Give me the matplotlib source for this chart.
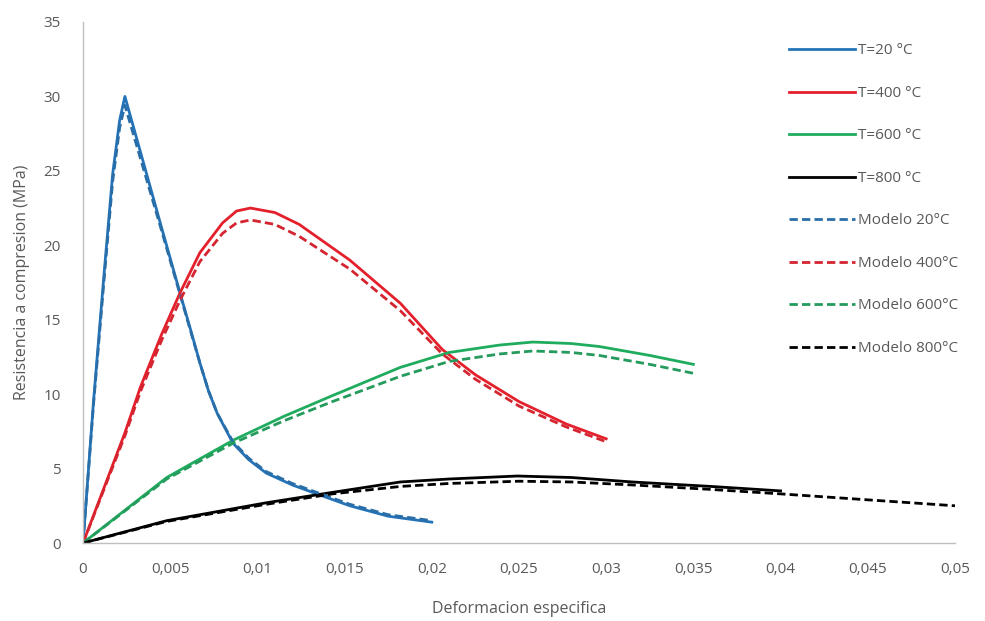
import matplotlib
matplotlib.use("Agg")
import matplotlib.pyplot as plt

plt.rcParams['font.family'] = ['Open Sans', 'DejaVu Sans']

# experimental curves
x_20 = [0, 0.0006, 0.0012, 0.0017, 0.0021, 0.0024, 0.0035, 0.0045, 0.00556, 0.0062, 0.0067, 0.0072, 0.0077, 0.0086, 0.0095, 0.0105, 0.012, 0.0134, 0.0153, 0.0175, 0.02]
y_20 = [0, 9.5, 18.0, 24.8, 28.4, 30.0, 25.4, 21.2, 16.8, 14.2, 12.1, 10.2, 8.7, 6.7, 5.6, 4.7, 3.9, 3.3, 2.5, 1.8, 1.4]
x_400 = [0, 0.0024, 0.0033, 0.0045, 0.00556, 0.0067, 0.008, 0.0088, 0.0096, 0.011, 0.0124, 0.0153, 0.0182, 0.0206, 0.0225, 0.025, 0.0277, 0.03]
y_400 = [0, 7.4, 10.5, 14.0, 16.8, 19.5, 21.5, 22.3, 22.5, 22.2, 21.4, 19.0, 16.1, 13.0, 11.3, 9.5, 8.0, 7.0]
x_600 = [0, 0.0048, 0.0086, 0.0115, 0.0143, 0.0182, 0.021, 0.0239, 0.0258, 0.028, 0.0296, 0.0325, 0.035]
y_600 = [0, 4.4, 6.9, 8.5, 9.9, 11.8, 12.8, 13.3, 13.5, 13.4, 13.2, 12.6, 12.0]
x_800 = [0, 0.0048, 0.0105, 0.0143, 0.0182, 0.021, 0.0249, 0.028, 0.0315, 0.036, 0.04]
y_800 = [0, 1.5, 2.7, 3.4, 4.1, 4.3, 4.5, 4.4, 4.1, 3.8, 3.5]

# model curves
xm_20 = x_20
ym_20 = [0, 9.3, 17.6, 24.3, 27.9, 29.4, 25.0, 21.0, 16.7, 14.1, 12.1, 10.2, 8.7, 6.8, 5.7, 4.8, 4.0, 3.4, 2.6, 1.9, 1.5]
xm_400 = x_400
ym_400 = [0, 7.2, 10.2, 13.6, 16.3, 18.9, 20.8, 21.5, 21.7, 21.4, 20.6, 18.4, 15.6, 12.7, 11.0, 9.2, 7.8, 6.8]
xm_600 = x_600
ym_600 = [0, 4.3, 6.7, 8.2, 9.5, 11.2, 12.2, 12.7, 12.9, 12.8, 12.6, 12.0, 11.4]
xm_800 = [0, 0.0048, 0.0105, 0.0143, 0.0182, 0.021, 0.025, 0.028, 0.0315, 0.036, 0.04, 0.045, 0.05]
ym_800 = [0, 1.45, 2.6, 3.3, 3.8, 4.0, 4.15, 4.1, 3.9, 3.6, 3.3, 2.9, 2.5]

x_ticks = [0, 0.005, 0.01, 0.015, 0.02, 0.025, 0.03, 0.035, 0.04, 0.045, 0.05]
x_tick_labels = ["0", "0,005", "0,01", "0,015", "0,02", "0,025", "0,03", "0,035", "0,04", "0,045", "0,05"]
y_ticks = [0, 5, 10, 15, 20, 25, 30, 35]

fig = plt.figure(figsize=(9.85, 6.21), dpi=100)
ax = fig.add_axes([0.0843, 0.1256, 0.8852, 0.839])

lw = 2.0
dash = (0, (3, 1.5))
ax.plot(x_20, y_20, color='#2473b8', lw=lw, label='T=20 °C')
ax.plot(x_400, y_400, color='#e3202b', lw=lw, label='T=400 °C')
ax.plot(x_600, y_600, color='#1fac5e', lw=lw, label='T=600 °C')
ax.plot(x_800, y_800, color='black', lw=lw, label='T=800 °C')
ax.plot(xm_20, ym_20, color='#2a6ea8', lw=lw, ls=dash, label='Modelo 20°C')
ax.plot(xm_400, ym_400, color='#d42530', lw=lw, ls=dash, label='Modelo 400°C')
ax.plot(xm_600, ym_600, color='#249a5c', lw=lw, ls=dash, label='Modelo 600°C')
ax.plot(xm_800, ym_800, color='black', lw=lw, ls=dash, label='Modelo 800°C')

ax.set_xlim(0, 0.05)
ax.set_ylim(0, 35)
ax.set_xticks(x_ticks)
ax.set_xticklabels(x_tick_labels)
ax.set_yticks(y_ticks)
ax.tick_params(length=0, labelsize=11, labelcolor='#595959')
ax.tick_params(axis='x', pad=14)
ax.tick_params(axis='y', pad=16)
for s in ['top', 'right']:
    ax.spines[s].set_visible(False)
for s in ['left', 'bottom']:
    ax.spines[s].set_color('#bfbfbf')
    ax.spines[s].set_linewidth(1)

ax.set_xlabel('Deformacion especifica', fontsize=11.5, color='#595959', labelpad=17)
ax.set_ylabel('Resistencia a compresion (MPa)', fontsize=11.5, color='#595959', labelpad=10)

leg = ax.legend(loc='upper left', bbox_to_anchor=(0.795, 0.94), bbox_transform=fig.transFigure,
                frameon=False, fontsize=11, handlelength=4.3, handletextpad=0.2,
                labelspacing=1.8, borderaxespad=0)
for t in leg.get_texts():
    t.set_color('#595959')

fig.savefig('out.png', dpi=100)
